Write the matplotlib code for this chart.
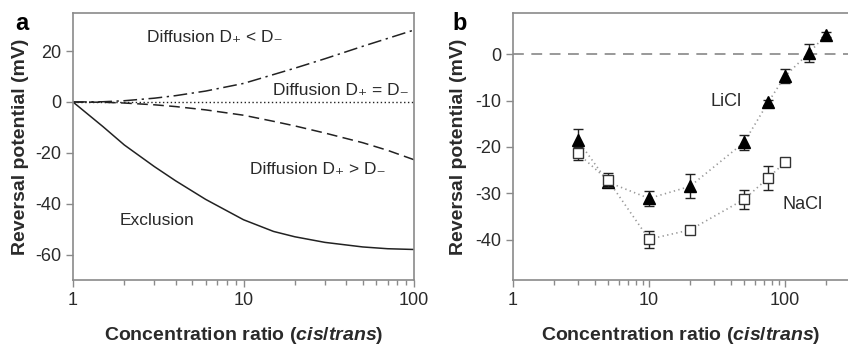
import numpy as np
import matplotlib
matplotlib.use('Agg')
import matplotlib.pyplot as plt

plt.rcParams['font.family'] = ['Liberation Sans', 'DejaVu Sans']
plt.rcParams['mathtext.fontset'] = 'custom'
plt.rcParams['mathtext.rm'] = 'Liberation Sans'
plt.rcParams['mathtext.it'] = 'Liberation Sans:italic'
plt.rcParams['mathtext.bf'] = 'Liberation Sans:bold'
plt.rcParams['mathtext.bfit'] = 'Liberation Sans:italic:bold'
plt.rcParams['mathtext.default'] = 'regular'
plt.rcParams['axes.unicode_minus'] = False

# panel a: model curves
ratio_a = [1, 1.5, 2, 3, 4, 6, 10, 15, 20, 30, 50, 70, 100]
exclusion = [0, -9.7, -16.9, -25.4, -31.0, -38.3, -46.3, -50.9, -53.0, -55.2, -57.0, -57.7, -58.0]
diff_less = [0, 0.1, 0.5, 1.5, 2.5, 4.3, 7.3, 10.8, 13.3, 17.0, 21.9, 25.0, 28.3]
diff_more = [0, -0.1, -0.4, -1.1, -1.8, -3.1, -5.2, -7.6, -9.4, -12.2, -16.0, -19.0, -22.7]
diff_equal = [0] * len(ratio_a)

# panel b: measured reversal potentials
ratio_li = [3, 5, 10, 20, 50, 75, 100, 150, 200]
licl = [-18.6, -27.6, -31.1, -28.5, -19.0, -10.4, -4.7, 0.3, 4.2]
licl_err = [2.4, 1.0, 1.6, 2.6, 1.6, 0.6, 1.5, 1.9, 0.5]
ratio_na = [3, 5, 10, 20, 50, 75, 100]
nacl = [-21.4, -27.2, -39.9, -37.9, -31.3, -26.7, -23.3]
nacl_err = [1.4, 1.5, 1.8, 0.9, 2.0, 2.5, 0.0]

W, H = 848, 346
fig = plt.figure(figsize=(W / 100, H / 100), dpi=100)
ax1 = fig.add_axes([73 / W, (H - 280) / H, 341 / W, 267 / H])
ax2 = fig.add_axes([513 / W, (H - 280) / H, 335 / W, 267 / H])

spine_col = '#8a8a8a'
txt_col = '#2a2a2a'
line_col = '#222222'

for ax in (ax1, ax2):
    ax.set_xscale('log')
    for s in ax.spines.values():
        s.set_color(spine_col)
        s.set_linewidth(1.2)
    ax.tick_params(which='major', direction='out', length=5, width=1.0,
                   color=spine_col, labelsize=13, labelcolor=txt_col)
    ax.tick_params(which='minor', direction='out', length=3.5, width=1.0, color=spine_col)
    ax.tick_params(axis='y', which='minor', left=False)
    ax.set_xlabel(r'Concentration ratio ($\mathbfit{cis}$/$\mathbfit{trans}$)',
                  fontsize=14, fontweight='bold', color=txt_col)
    ax.set_ylabel('Reversal potential (mV)', fontsize=14, fontweight='bold', color=txt_col)
    ax.xaxis.set_major_formatter(matplotlib.ticker.FuncFormatter(lambda v, p: '%g' % v))

# ---- panel a
ax1.plot(ratio_a, exclusion, color=line_col, lw=1.1)
ax1.plot(ratio_a, diff_less, color=line_col, lw=1.1, ls=(0, (9, 3, 1.5, 3)))
ax1.plot(ratio_a, diff_more, color=line_col, lw=1.1, ls=(0, (7, 3.5)))
ax1.plot(ratio_a, diff_equal, color=line_col, lw=1.0, ls=(0, (1, 1.8)))
ax1.set_xlim(1, 100)
ax1.set_ylim(-70, 35)
ax1.set_yticks([20, 0, -20, -40, -60])
ax1.xaxis.set_label_coords(0.5, -0.17)
ax1.yaxis.set_label_coords(-0.128, 0.5)

akw = dict(fontsize=12.5, color=txt_col, ha='center', va='center')
ax1.text(6.8, 25.5, 'Diffusion D\u208a < D\u208b', **akw)
ax1.text(37.5, 4.5, 'Diffusion D\u208a = D\u208b', **akw)
ax1.text(27.2, -26.7, 'Diffusion D\u208a > D\u208b', **akw)
ax1.text(3.1, -46.7, 'Exclusion', **akw)

# ---- panel b
ax2.axhline(0, color='#888888', lw=1.2, ls=(0, (6.5, 4.5)), zorder=1)
ax2.plot(ratio_li, licl, color='#999999', lw=1.2, ls=(0, (0.8, 2)), zorder=2)
ax2.plot(ratio_na, nacl, color='#999999', lw=1.2, ls=(0, (0.8, 2)), zorder=2)
ax2.errorbar(ratio_li, licl, yerr=licl_err, fmt='^', ms=8, color='black',
             mfc='black', mec='black', ecolor='#222222', elinewidth=1.0,
             capsize=3.5, capthick=1.0, zorder=3)
ax2.errorbar(ratio_na, nacl, yerr=nacl_err, fmt='s', ms=7.5, color='#333333',
             mfc='white', mec='#333333', mew=1.0, ecolor='#222222', elinewidth=1.0,
             capsize=3.5, capthick=1.0, zorder=4)
ax2.set_xlim(1, 290)
ax2.set_ylim(-48.7, 8.9)
ax2.set_yticks([0, -10, -20, -30, -40])
ax2.spines['right'].set_visible(False)
ax2.xaxis.set_label_coords(0.5, -0.17)
ax2.yaxis.set_label_coords(-0.137, 0.5)

bkw = dict(fontsize=13, color=txt_col, ha='center', va='center')
ax2.text(36.8, -10.3, 'LiCl', **bkw)
ax2.text(134, -32.5, 'NaCl', **bkw)

fig.text(22 / W, 1 - 29.5 / H, 'a', fontsize=17, fontweight='bold', ha='center', va='baseline')
fig.text(460 / W, 1 - 29.5 / H, 'b', fontsize=17, fontweight='bold', ha='center', va='baseline')

plt.savefig('out.png', dpi=100)
